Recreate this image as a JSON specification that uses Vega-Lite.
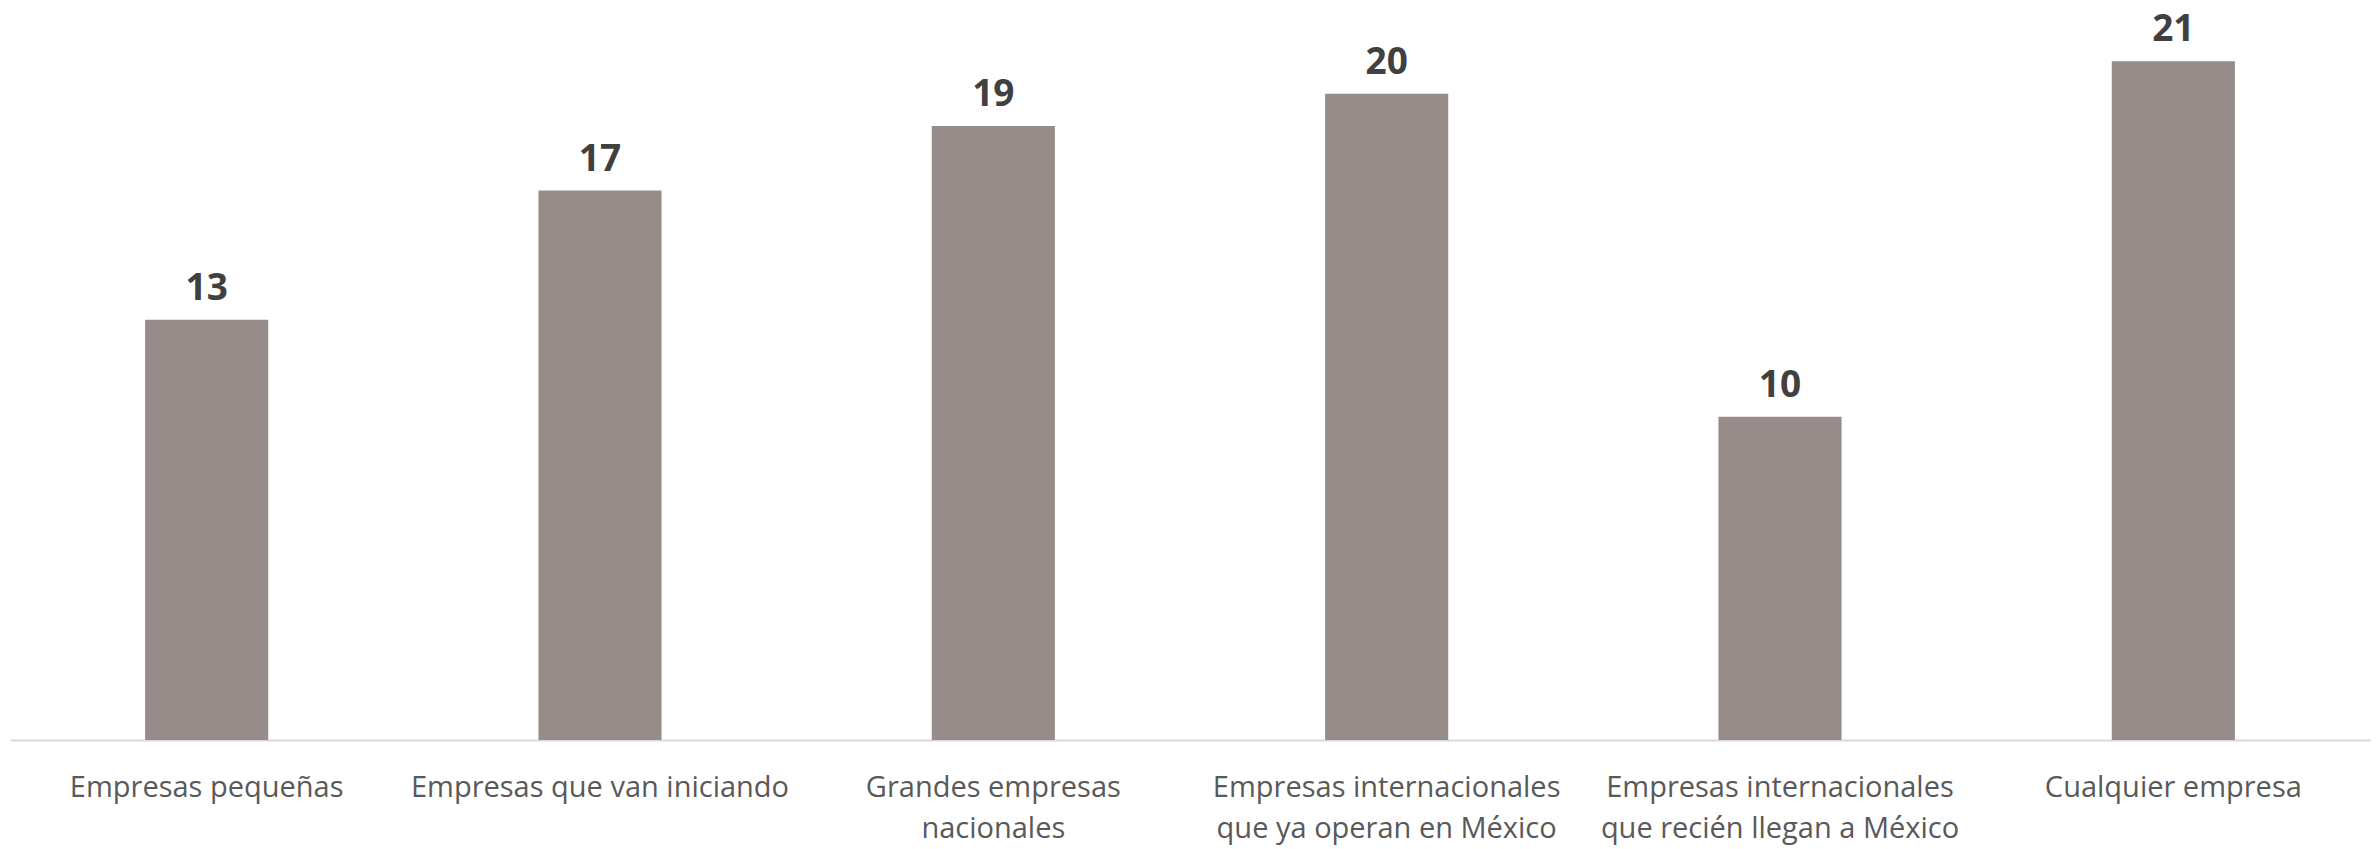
{
  "$schema": "https://vega.github.io/schema/vega-lite/v6.json",
  "autosize": {"type": "none"},
  "width": 2360,
  "height": 711,
  "padding": {"left": 10, "top": 29, "right": 9, "bottom": 109},
  "background": "white",
  "config": {"view": {"stroke": null}},
  "data": {
    "values": [
      {"categoria": "Empresas pequeñas", "valor": 13},
      {"categoria": "Empresas que van iniciando", "valor": 17},
      {"categoria": "Grandes empresas nacionales", "valor": 19},
      {"categoria": "Empresas internacionales que ya operan en México", "valor": 20},
      {"categoria": "Empresas internacionales que recién llegan a México", "valor": 10},
      {"categoria": "Cualquier empresa", "valor": 21}
    ]
  },
  "encoding": {
    "x": {
      "field": "categoria",
      "type": "nominal",
      "sort": null,
      "scale": {"paddingInner": 0.687, "paddingOuter": 0.3435},
      "axis": {
        "title": null,
        "ticks": false,
        "domainColor": "#d9d9d9",
        "domainWidth": 2,
        "labelAngle": 0,
        "labelFont": "Open Sans",
        "labelFontSize": 29,
        "labelColor": "#595959",
        "labelPadding": 33,
        "labelLineHeight": 41,
        "labelBaseline": "top",
        "labelLimit": 600,
        "labelExpr": "datum.label == 'Grandes empresas nacionales' ? ['Grandes empresas', 'nacionales'] : datum.label == 'Empresas internacionales que ya operan en México' ? ['Empresas internacionales', 'que ya operan en México'] : datum.label == 'Empresas internacionales que recién llegan a México' ? ['Empresas internacionales', 'que recién llegan a México'] : datum.label"
      }
    },
    "y": {
      "field": "valor",
      "type": "quantitative",
      "scale": {"domain": [0, 22], "nice": false},
      "axis": null
    }
  },
  "layer": [
    {"mark": {"type": "bar", "color": "#978c8a"}},
    {
      "mark": {
        "type": "text",
        "baseline": "alphabetic",
        "dy": -20,
        "font": "Open Sans",
        "fontWeight": "bold",
        "fontSize": 37,
        "color": "#404040"
      },
      "encoding": {"text": {"field": "valor", "type": "quantitative"}}
    }
  ]
}
